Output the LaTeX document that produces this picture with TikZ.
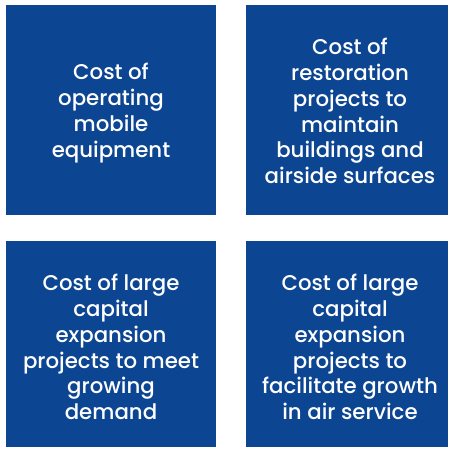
\documentclass[tikz,border=0pt]{standalone}
\usepackage{fontspec}
\setmainfont{Poppins}[UprightFont=* Medium]
\definecolor{tileblue}{RGB}{12,69,146}
\begin{document}
\begin{tikzpicture}[x=1pt,y=-1pt,
  tile/.style={fill=tileblue,draw=none},
  tiletext/.style={text=white,align=center,font=\fontsize{21.3}{25.8}\selectfont}]
\useasboundingbox (0,0) rectangle (449,449);
% four tiles
\fill[tile] (6,5) rectangle (216,215);
\fill[tile] (246,5) rectangle (448,215);
\fill[tile] (6,241) rectangle (216,447);
\fill[tile] (246,241) rectangle (448,447);
% labels
\node[tiletext] (a) at (111,113) {Cost of\\operating\\mobile\\equipment};
\node[tiletext] (b) at (350,111) {Cost of\\restoration\\projects to\\maintain\\buildings and\\airside surfaces};
\node[tiletext] (c) at (111,347) {Cost of large\\capital\\expansion\\projects to meet\\growing\\demand};
\node[tiletext] (d) at (350,347) {Cost of large\\capital\\expansion\\projects to\\facilitate growth\\in air service};
\end{tikzpicture}
\end{document}
